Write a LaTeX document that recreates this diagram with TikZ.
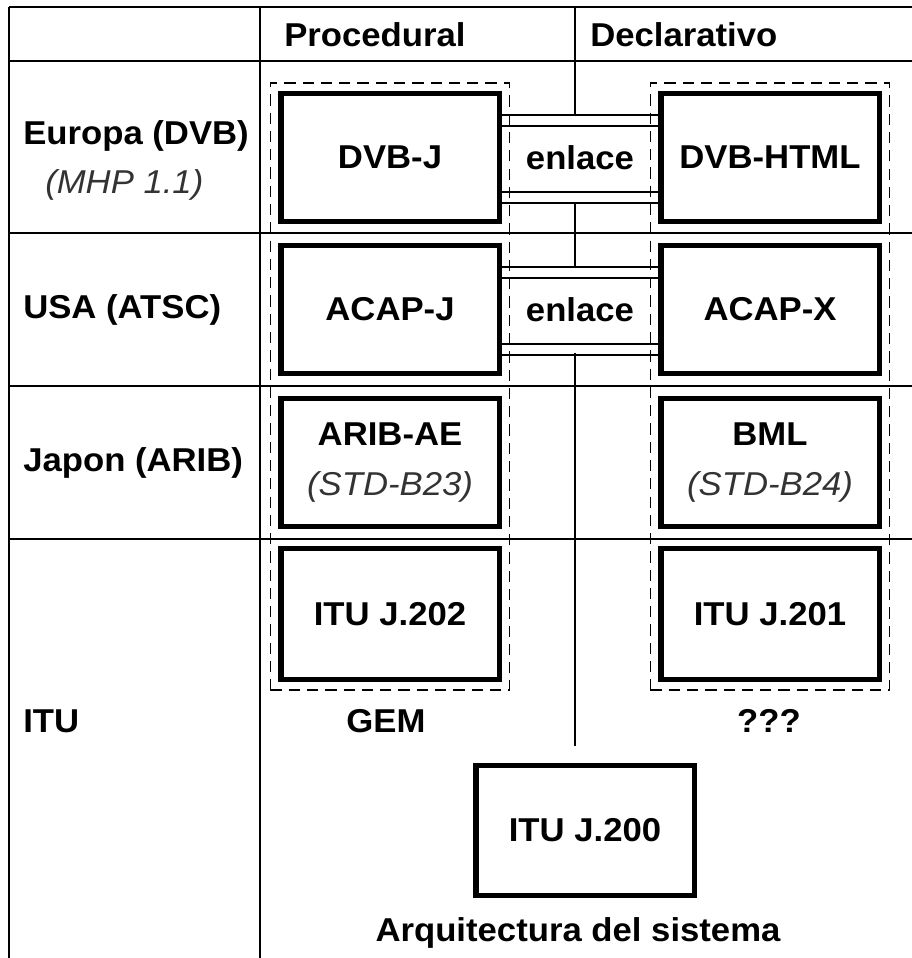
\documentclass[tikz,border=0pt]{standalone}
\usepackage{fontspec}
\setmainfont{Liberation Sans}[FakeStretch=1.05]
\usetikzlibrary{calc,fit}

\begin{document}
\begin{tikzpicture}[x=0.025cm,y=-0.025cm,
    font=\fontsize{23.5}{28}\selectfont\bfseries,
    rule/.style={line width=1pt},
    lbl/.style={inner sep=0pt},
    stdbox/.style={draw,line width=3.6pt,fill=white,minimum width=5.45cm,minimum height=3.2cm,inner sep=0pt,align=center},
    frame/.style={draw,line width=1.1pt,dash pattern=on 8pt off 5pt,inner sep=0.2cm},
    note/.style={font=\fontsize{23.5}{28}\selectfont\mdseries\itshape,text=black!80}]
  \useasboundingbox (0,0) rectangle (912,958);

  % table
  \foreach \y in {7,61,233,386,539}
    \draw[rule] (9,\y) -- (912,\y);
  \draw[rule] (9,7) -- (9,958);
  \draw[rule] (260,7) -- (260,958);
  \draw[rule] (575,7) -- (575,115);
  \draw[rule] (575,203) -- (575,268);
  \draw[rule] (575,353) -- (575,746);

  \node[lbl,anchor=base west] (hdproc) at (284,47) {Procedural};
  \node[lbl,anchor=base west] (hddecl) at (590,47) {Declarativo};

  \node[lbl,anchor=base west] (europa) at (23,145) {Europa (DVB)};
  \node[lbl,note,anchor=base west] (mhp) at (45,194) {(MHP 1.1)};
  \node[lbl,anchor=west] (usa) at (23,310) {USA (ATSC)};
  \node[lbl,anchor=west] (japon) at (23,463) {Japon (ARIB)};
  \node[lbl,anchor=base west] (itu) at (23,732) {ITU};

  % boxes
  \node[stdbox] (dvbj) at (390,157.5) {DVB-J};
  \node[stdbox] (dvbhtml) at (770,157.5) {DVB-HTML};
  \node[stdbox] (acapj) at (390,309.5) {ACAP-J};
  \node[stdbox] (acapx) at (770,309.5) {ACAP-X};
  \node[stdbox] (aribae) at (390,462.5) {ARIB-AE\\[7pt]{\mdseries\itshape\color{black!80}(STD-B23)}};
  \node[stdbox] (bml) at (770,462.5) {BML\\[7pt]{\mdseries\itshape\color{black!80}(STD-B24)}};
  \node[stdbox,minimum height=3.28cm] (j202) at (390,614) {ITU J.202};
  \node[stdbox,minimum height=3.28cm] (j201) at (770,614) {ITU J.201};
  \node[stdbox,minimum height=3.25cm] (j200) at (585,830.5) {ITU J.200};

  \node[frame,fit=(dvbj)(j202)] (proc) {};
  \node[frame,fit=(dvbhtml)(j201)] (decl) {};

  % enlaces
  \foreach \a/\b in {dvbj/dvbhtml,acapj/acapx}
    \foreach \o in {-42.5,-31.5,34.5,45.5}
      \draw[rule] ($(\a.east)+(0,\o)$) -- ($(\b.west)+(0,\o)$);
  \node (link1) at ($(dvbj.east)!0.5!(dvbhtml.west)$) {enlace};
  \node (link2) at ($(acapj.east)!0.5!(acapx.west)$) {enlace};

  \node[anchor=base] (gem) at (386,732) {GEM};
  \node[anchor=base] (unk) at (769,732) {???};
  \node[anchor=base] (arq) at (578,941) {Arquitectura del sistema};
\end{tikzpicture}
\end{document}
